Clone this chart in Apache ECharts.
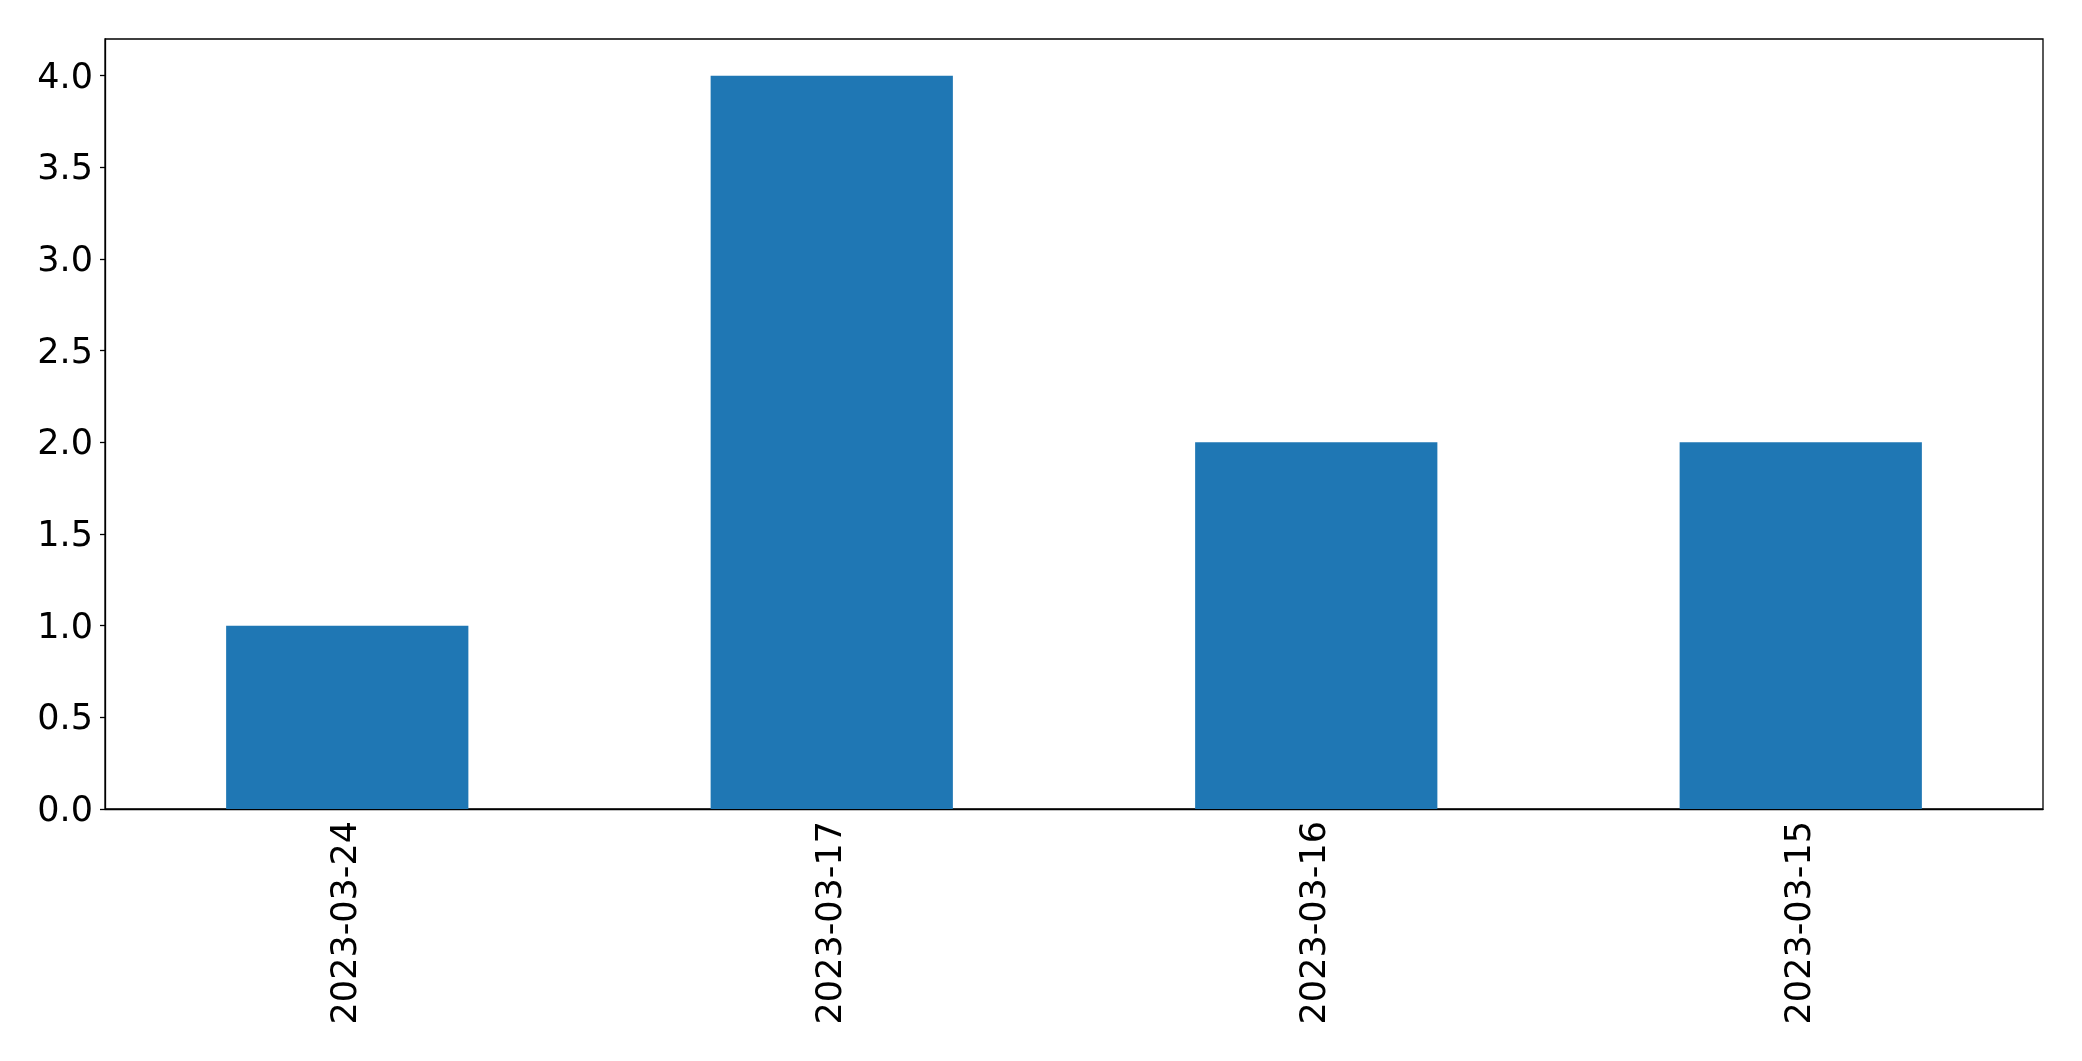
<!DOCTYPE html>
<html><head><meta charset="utf-8">
<script src="https://cdn.jsdelivr.net/npm/echarts@6/dist/echarts.min.js"></script>
<style>html,body{margin:0;padding:0;background:#fff}#c{width:2082px;height:1061px}</style>
</head><body><div id="c"></div>
<script>
const categories = ['2023-03-24', '2023-03-17', '2023-03-16', '2023-03-15'];
const values = [1, 4, 2, 2];
const yTicks = [0, 0.5, 1.0, 1.5, 2.0, 2.5, 3.0, 3.5, 4.0];

const chart = echarts.init(document.getElementById('c'), null, {renderer: 'canvas'});
const font = 'DejaVu Sans';
chart.setOption({
  animation: false,
  grid: {left: 105, right: 39, top: 39, bottom: 252, show: true, borderColor: '#000', borderWidth: 1.3, containLabel: false},
  xAxis: {
    type: 'category', data: categories, boundaryGap: true,
    axisLine: {lineStyle: {color: '#000', width: 1.3}},
    axisTick: {alignWithLabel: true, length: 5, lineStyle: {color: '#000', width: 1.3}},
    axisLabel: {rotate: 90, margin: 12, color: '#000', fontSize: 35, fontFamily: font, interval: 0},
    splitLine: {show: false}
  },
  yAxis: {
    type: 'value', min: 0, max: 4.2,
    axisLine: {show: true, lineStyle: {color: '#000', width: 1.3}},
    axisTick: {show: true, length: 5, lineStyle: {color: '#000', width: 1.3}, customValues: yTicks},
    axisLabel: {color: '#000', fontSize: 35, fontFamily: font, margin: 12, customValues: yTicks,
      formatter: v => '{a|' + Number(v).toFixed(1) + '}',
      rich: {a: {fontSize: 35, fontFamily: font, color: '#000', padding: [6, 0, 0, 0]}}},
    splitLine: {show: false}
  },
  series: [{type: 'bar', data: values, barWidth: '50%', itemStyle: {color: '#1f77b4'}}]
});
</script></body></html>
